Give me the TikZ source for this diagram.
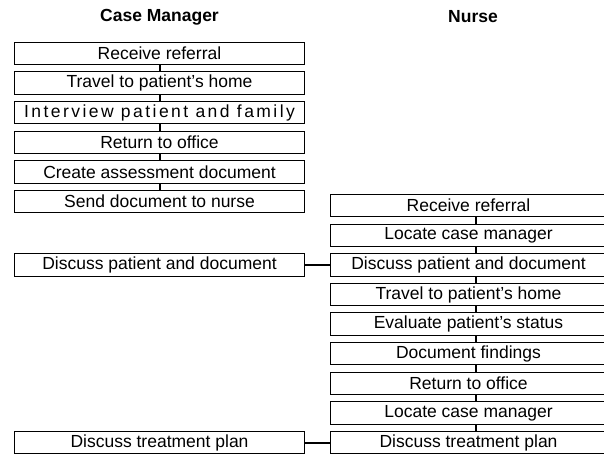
\documentclass[tikz,border=0pt]{standalone}
\usepackage{fontspec}
\setmainfont{Liberation Sans}
\begin{document}
\begin{tikzpicture}[x=1pt,y=-1pt,
  task/.style={draw=black, line width=1pt, rectangle, inner sep=0pt,
    minimum height=22.4pt, anchor=north west,
    font=\fontsize{17.5}{20}\selectfont},
  cmtask/.style={task, minimum width=290pt},
  nursetask/.style={task, minimum width=276pt},
  wide/.style={font=\fontsize{17.5}{20}\selectfont\addfontfeature{LetterSpace=14}},
  lane/.style={font=\bfseries\fontsize{17.5}{20}\selectfont},
  link/.style={line width=2pt}]
\useasboundingbox (0,0) rectangle (604,453);

% swimlane headings
\node[lane] (hcm) at (159.5,17) {Case Manager};
\node[lane] (hnu) at (473,17) {Nurse};

% case manager tasks
\node[cmtask] (c1) at (14,41.7)  {Receive referral};
\node[cmtask] (c2) at (14,71.3)  {Travel to patient’s home};
\node[cmtask, wide] (c3) at (14,100.9) {Interview patient and family};
\node[cmtask] (c4) at (14,130.5) {Return to office};
\node[cmtask] (c5) at (14,160.1) {Create assessment document};
\node[cmtask] (c6) at (14,189.7) {Send document to nurse};
\node[cmtask] (c7) at (14,253.2) {Discuss patient and document};
\node[cmtask] (c8) at (14,430.8) {Discuss treatment plan};

% nurse tasks
\node[nursetask] (n1) at (330,194.0) {Receive referral};
\node[nursetask] (n2) at (330,223.6) {Locate case manager};
\node[nursetask] (n3) at (330,253.2) {Discuss patient and document};
\node[nursetask] (n4) at (330,282.8) {Travel to patient’s home};
\node[nursetask] (n5) at (330,312.4) {Evaluate patient’s status};
\node[nursetask] (n6) at (330,342.0) {Document findings};
\node[nursetask] (n7) at (330,371.6) {Return to office};
\node[nursetask] (n8) at (330,401.2) {Locate case manager};
\node[nursetask] (n9) at (330,430.8) {Discuss treatment plan};

% sequence links, case manager
\foreach \a/\b in {c1/c2,c2/c3,c3/c4,c4/c5,c5/c6}
  \draw[link] (\a.south) -- (\b.north);

% sequence links, nurse
\foreach \a/\b in {n1/n2,n2/n3,n3/n4,n4/n5,n5/n6,n6/n7,n7/n8,n8/n9}
  \draw[link] ([xshift=7pt]\a.south) -- ([xshift=7pt]\b.north);

% shared activities
\draw[link] (c7.east) -- (n3.west);
\draw[link] (c8.east) -- (n9.west);
\end{tikzpicture}
\end{document}
